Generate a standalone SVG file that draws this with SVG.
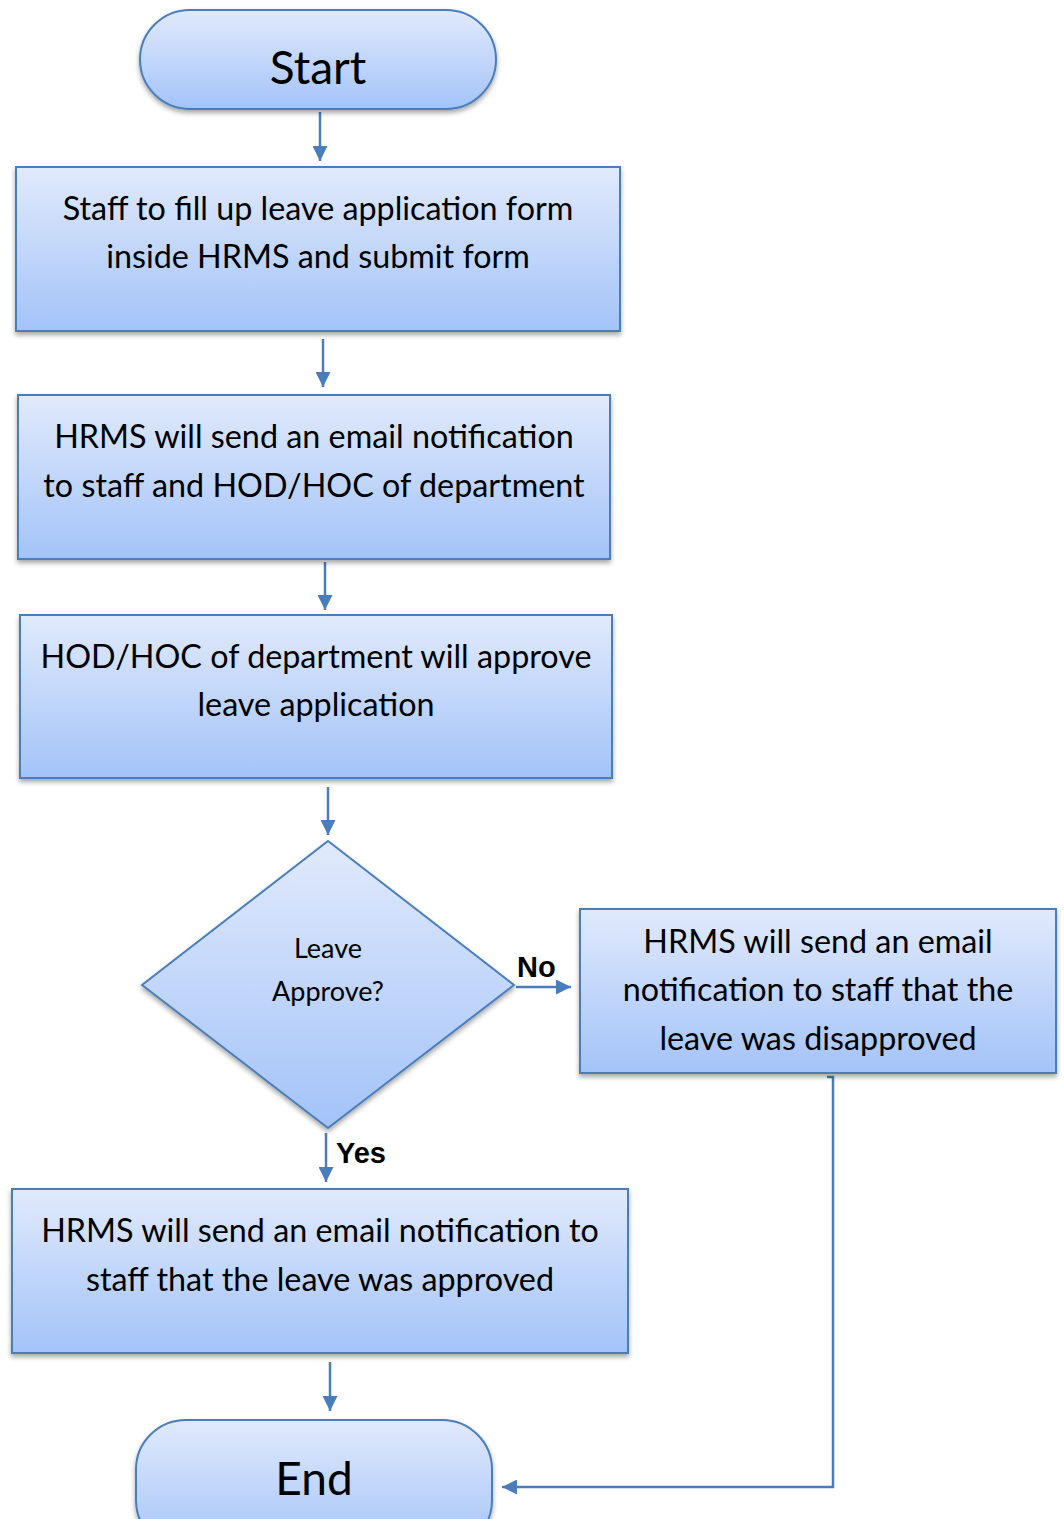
<svg xmlns="http://www.w3.org/2000/svg" width="1064" height="1519" viewBox="0 0 1064 1519">
<style>
.node{fill:url(#g);stroke:#4a7ebb;stroke-width:2;filter:url(#sh)}
.t{font-family:Lato,"Open Sans","Liberation Sans",sans-serif;font-size:32.3px;fill:#000;text-anchor:middle}
.big{font-size:46px}
.sm{font-size:27px}
.lbl{font-family:"Liberation Sans",Arial,sans-serif;font-weight:bold;font-size:29px;fill:#000}
.c{fill:none;stroke:#4a7ebb;stroke-width:2.5}
</style>
<defs>
<linearGradient id="g" x1="0" y1="0" x2="0" y2="1">
<stop offset="0" stop-color="#e1eafc"/>
<stop offset="1" stop-color="#a3c3f8"/>
</linearGradient>
<filter id="sh" x="-10%" y="-10%" width="120%" height="130%">
<feDropShadow dx="0" dy="3" stdDeviation="2.5" flood-color="#000" flood-opacity="0.35"/>
</filter>
<marker id="a" viewBox="0 0 10 10" refX="10" refY="5" markerWidth="6" markerHeight="6" markerUnits="strokeWidth" orient="auto">
<path d="M0,0 L10,5 L0,10 z" fill="#4a7ebb"/>
</marker>
</defs>
<g id="connectors">
<path class="c" d="M320,112 V161" marker-end="url(#a)"/>
<path class="c" d="M323,339 V387" marker-end="url(#a)"/>
<path class="c" d="M325,562 V610" marker-end="url(#a)"/>
<path class="c" d="M328,787 V835" marker-end="url(#a)"/>
<path class="c" d="M516,987 H571" marker-end="url(#a)"/>
<path class="c" d="M326,1133 V1182" marker-end="url(#a)"/>
<path class="c" d="M330,1362 V1411" marker-end="url(#a)"/>
<path class="c" d="M827,1077 H833 V1487 H502" marker-end="url(#a)"/>
<text class="lbl" x="517" y="977">No</text>
<text class="lbl" x="336" y="1163">Yes</text>
</g>
<g id="start">
<rect class="node" x="140" y="10" width="356" height="99" rx="50" ry="49.5"/>
<text class="t big" x="318" y="84">Start</text>
</g>
<g id="fill">
<rect class="node" x="16" y="167" width="604" height="164"/>
<text class="t" x="318" y="220">Staff to fill up leave application form</text>
<text class="t" x="318" y="268">inside HRMS and submit form</text>
</g>
<g id="notify">
<rect class="node" x="18" y="395" width="592" height="164"/>
<text class="t" x="314" y="448">HRMS will send an email notification</text>
<text class="t" x="314" y="497">to staff and HOD/HOC of department</text>
</g>
<g id="approve">
<rect class="node" x="20" y="615" width="592" height="163"/>
<text class="t" x="316" y="668">HOD/HOC of department will approve</text>
<text class="t" x="316" y="716">leave application</text>
</g>
<g id="decision">
<path class="node" d="M328,841 L514,985 L328,1128 L142,985 Z"/>
<text class="t sm" x="328" y="958">Leave</text>
<text class="t sm" x="328" y="1001">Approve?</text>
</g>
<g id="disapproved">
<rect class="node" x="580" y="909" width="476" height="164"/>
<text class="t" x="818" y="953">HRMS will send an email</text>
<text class="t" x="818" y="1001">notification to staff that the</text>
<text class="t" x="818" y="1050">leave was disapproved</text>
</g>
<g id="approved">
<rect class="node" x="12" y="1189" width="616" height="164"/>
<text class="t" x="320" y="1242">HRMS will send an email notification to</text>
<text class="t" x="320" y="1291">staff that the leave was approved</text>
</g>
<g id="end">
<rect class="node" x="136" y="1420" width="356" height="130" rx="50" ry="49.5"/>
<text class="t big" x="314" y="1495">End</text>
</g>
</svg>
